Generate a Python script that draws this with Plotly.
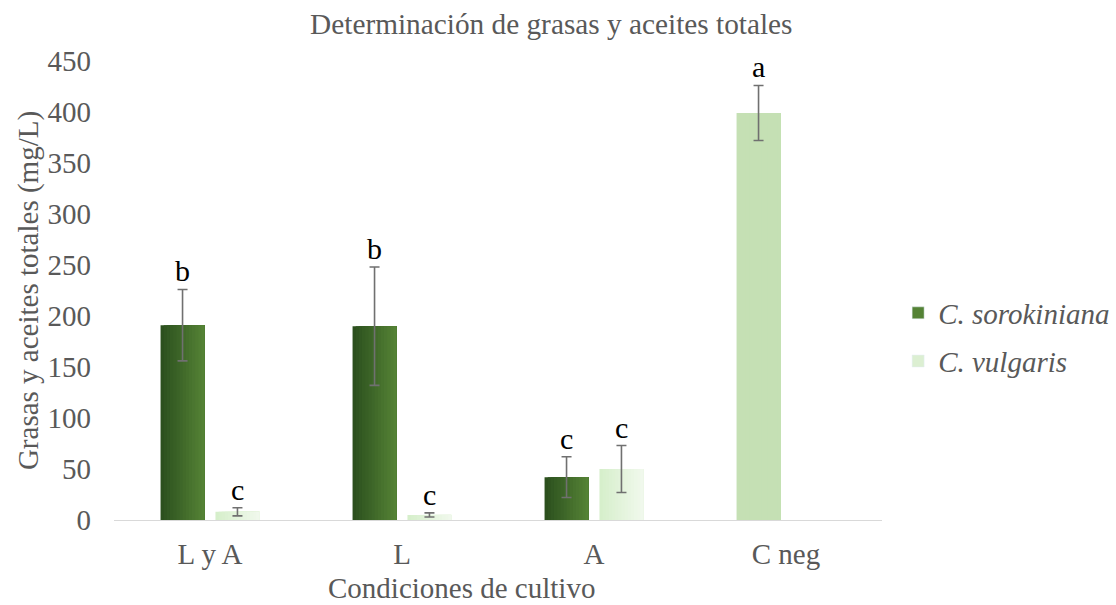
import plotly.graph_objects as go

categories = ["L y A", "L", "A", "C neg"]
sorokiniana = [191, 190, 42, 399]
sorokiniana_err = [35, 58, 20, 27]
vulgaris = [8, 5, 50, None]
vulgaris_err = [4, 2, 23, None]
letters_soro = ["b", "b", "c", "a"]
letters_vulg = ["c", "c", "c", ""]

FONT = "Liberation Serif"
GREY = "#595959"

soro_left, soro_right = (44, 80, 30), (84, 130, 53)
vulg_left, vulg_right = (214, 239, 203), (240, 248, 236)
cneg_color = "#c5e0b4"

bw = 0.229
gap = 0.057
soro_off = -gap / 2 - bw
vulg_off = gap / 2
N = 14

def mix(c1, c2, t):
    return "rgb(%d,%d,%d)" % tuple(round(a + (b - a) * t) for a, b in zip(c1, c2))

fig = go.Figure()

def add_series(vals, base_off, cl, cr, special=None):
    for i in range(N):
        t = i / (N - 1)
        col = mix(cl, cr, t)
        colors = [col] * len(vals)
        if special is not None:
            for k, c in special.items():
                colors[k] = c
        fig.add_trace(go.Bar(
            x=categories, y=vals, width=bw - i * bw / N, offset=base_off + i * bw / N,
            marker=dict(color=colors, line=dict(width=0)), showlegend=False,
            hoverinfo="skip"))

add_series(sorokiniana, soro_off, soro_left, soro_right, special={3: cneg_color})
add_series(vulgaris, vulg_off, vulg_left, vulg_right)

# error bars
for vals, errs, off in [(sorokiniana, sorokiniana_err, soro_off), (vulgaris, vulgaris_err, vulg_off)]:
    fig.add_trace(go.Bar(
        x=categories, y=vals, width=bw, offset=off,
        marker=dict(color="rgba(0,0,0,0)", line=dict(width=0)),
        error_y=dict(type="data", array=errs, visible=True, color="#707070", thickness=1.6, width=5),
        showlegend=False, hoverinfo="skip"))

# legend entries
fig.add_trace(go.Bar(x=categories, y=[None] * 4, name="<i>C. sorokiniana</i>", marker_color="#548235",
                     legend="legend"))
fig.add_trace(go.Bar(x=categories, y=[None] * 4, name="<i>C. vulgaris</i>", marker_color="#dcefd2",
                     legend="legend2"))

# letters
for i, cat in enumerate(categories):
    for vals, errs, lets, off in [(sorokiniana, sorokiniana_err, letters_soro, soro_off),
                                  (vulgaris, vulgaris_err, letters_vulg, vulg_off)]:
        if vals[i] is None or not lets[i]:
            continue
        fig.add_annotation(x=i + off + bw / 2, y=vals[i] + errs[i], xref="x", yref="y",
                           text=lets[i], showarrow=False, yanchor="bottom", yshift=0,
                           font=dict(family=FONT, size=30, color="black"))

tf = dict(family=FONT, size=29, color=GREY)

# x axis title (offset left as in the reference)
fig.add_annotation(text="Condiciones de cultivo", xref="paper", yref="paper", x=0.453, y=-0.148,
                   xanchor="center", yanchor="middle", showarrow=False, font=tf)

fig.update_layout(
    width=1116, height=605,
    barmode="overlay",
    paper_bgcolor="white", plot_bgcolor="white",
    margin=dict(l=114, r=234, t=61, b=85, autoexpand=False),
    font=dict(family=FONT, color=GREY),
    title=dict(text="Determinación de grasas y aceites totales", x=0.494, xref="container",
               xanchor="center", y=0.96, yanchor="middle",
               font=dict(family=FONT, size=29.3, color=GREY)),
    xaxis=dict(type="category", range=[-0.5, 3.5], showgrid=False, showline=True,
               linecolor="#d9d9d9", linewidth=1.3, ticks="", tickfont=tf, ticklabelstandoff=8),
    yaxis=dict(range=[0, 450], dtick=50, showgrid=False, zeroline=False, showline=False,
               ticks="", tickfont=tf, ticklabelstandoff=22,
               title=dict(text="Grasas y aceites totales (mg/L)", font=tf, standoff=0)),
    legend=dict(x=1.021, y=0.451, xanchor="left", yanchor="middle",
                font=dict(family=FONT, size=29, color=GREY), bgcolor="rgba(0,0,0,0)"),
    legend2=dict(x=1.021, y=0.346, xanchor="left", yanchor="middle",
                 font=dict(family=FONT, size=29, color=GREY), bgcolor="rgba(0,0,0,0)"),
)

fig.write_html("out.html")
